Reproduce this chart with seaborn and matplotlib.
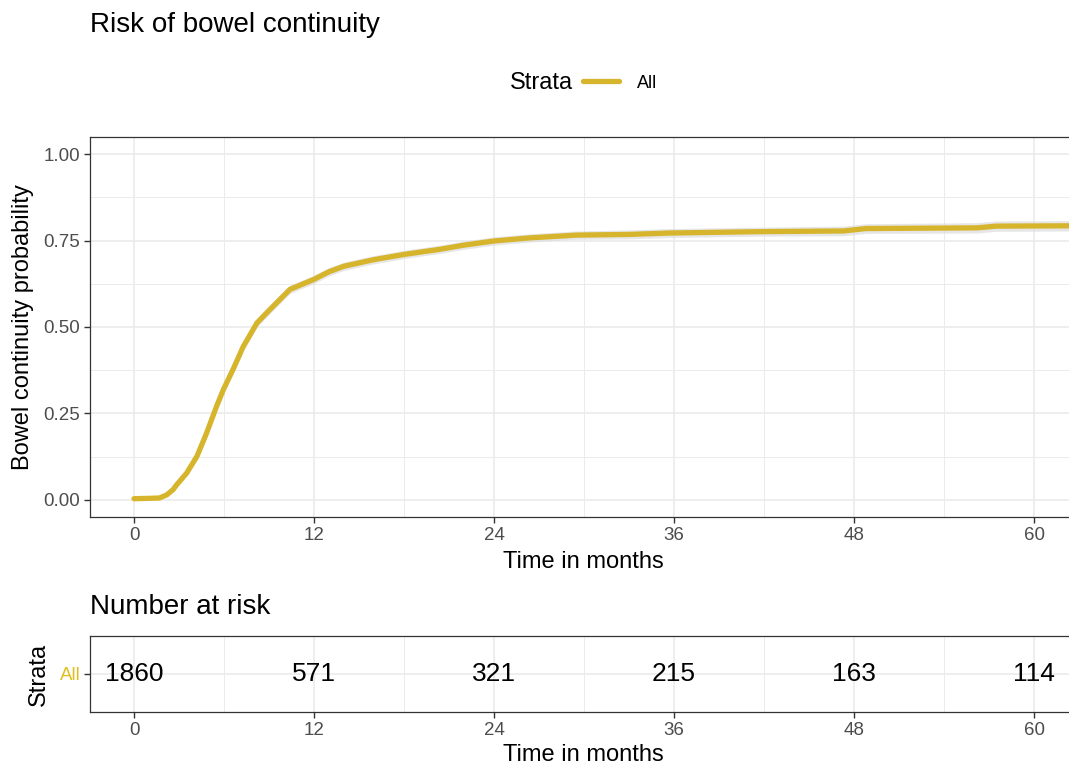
import numpy as np
import pandas as pd
import matplotlib
matplotlib.use("Agg")
import matplotlib.pyplot as plt
from matplotlib.ticker import MultipleLocator
import seaborn as sns

# cumulative probability curve
months = [0, 1.0, 1.7, 2.18, 2.6, 2.84, 3.51, 4.2, 4.84, 5.5, 5.96, 6.6, 7.29,
          8.2, 9.07, 10.4, 12.0, 13.0, 14.0, 16.0, 18.0, 20.4, 22.0, 24.0,
          26.4, 29.5, 33.0, 35.7, 41.7, 47.3, 48.8, 56.2, 57.5, 63.0]
prob = [0.003, 0.004, 0.005, 0.014, 0.029, 0.043, 0.077, 0.126, 0.193, 0.27,
        0.319, 0.377, 0.444, 0.512, 0.551, 0.609, 0.638, 0.66, 0.676, 0.695,
        0.71, 0.725, 0.737, 0.749, 0.758, 0.766, 0.768, 0.772, 0.776, 0.778,
        0.785, 0.787, 0.792, 0.793]
ci_half = [0.0, 0.002, 0.003, 0.005, 0.006, 0.007, 0.008, 0.009, 0.01, 0.011,
           0.011, 0.012, 0.012, 0.012, 0.012, 0.012, 0.012, 0.012, 0.012, 0.012,
           0.012, 0.012, 0.012, 0.012, 0.012, 0.012, 0.013, 0.013, 0.013, 0.014,
           0.014, 0.015, 0.015, 0.015]

risk_times = [0, 12, 24, 36, 48, 60]
risk_counts = [1860, 571, 321, 215, 163, 114]
strata = ["All"]

line_col = "#D6B52C"
label_col = "#E0BE1F"
grid_col = "#EBEBEB"
tick_col = "#4D4D4D"

sns.set_style("white")
plt.rcParams["font.family"] = ["Liberation Sans", "DejaVu Sans"]
plt.rcParams["text.color"] = "black"
plt.rcParams["axes.labelcolor"] = "black"

W, H = 1069, 767
fig = plt.figure(figsize=(W / 100, H / 100), dpi=100)


def px_axes(left, top, right, bottom):
    return fig.add_axes([left / W, 1 - bottom / H, (right - left) / W, (bottom - top) / H])


def style_axes(ax):
    for side in ["left", "bottom", "top", "right"]:
        ax.spines[side].set_color("#333333")
        ax.spines[side].set_linewidth(0.9)
    ax.tick_params(axis="both", which="major", bottom=True, left=True,
                   colors="#333333", labelcolor=tick_col,
                   labelsize=13.5, length=4, width=1.0, direction="out", pad=3)
    ax.set_axisbelow(True)


df = pd.DataFrame({"time": months, "prob": prob, "half": ci_half})
df["lo"] = df["prob"] - df["half"]
df["hi"] = df["prob"] + df["half"]

# main panel
x0 = (90 - 134) / 15
x1 = (1077 - 134) / 15
ax = px_axes(90, 137, 1077, 517)
style_axes(ax)
ax.fill_between(df["time"], df["lo"], df["hi"], color="#DCDCDC", alpha=0.7, linewidth=0)
sns.lineplot(data=df, x="time", y="prob", ax=ax, color=line_col, linewidth=3.8,
             label="All", legend=False, estimator=None)
ax.set_xlim(x0, x1)
ax.set_ylim(-0.05, 1.05)
ax.xaxis.set_major_locator(MultipleLocator(12))
ax.xaxis.set_minor_locator(MultipleLocator(6))
ax.yaxis.set_major_locator(MultipleLocator(0.25))
ax.yaxis.set_minor_locator(MultipleLocator(0.125))
ax.yaxis.set_major_formatter(plt.FuncFormatter(lambda v, p: f"{v:.2f}"))
ax.tick_params(which="minor", length=0)
ax.grid(which="major", color=grid_col, linewidth=1.2)
ax.grid(which="minor", color=grid_col, linewidth=0.7)
ax.set_xlabel("Time in months", fontsize=17, labelpad=5)
ax.set_ylabel("Bowel continuity probability", fontsize=17, labelpad=7)

fig.text(90 / W, 1 - 25 / H, "Risk of bowel continuity", fontsize=20, va="center", ha="left")

# legend at top
fig.text(510 / W, 1 - 83 / H, "Strata", fontsize=17, va="center", ha="left")
handles, _ = ax.get_legend_handles_labels()
fig.legend(handles, ["All"], loc="center left", bbox_to_anchor=(583 / W, 1 - 83 / H),
           frameon=False, fontsize=13, handlelength=2.0, handletextpad=1.0,
           borderpad=0, borderaxespad=0)

# number at risk table
fig.text(90 / W, 1 - 607 / H, "Number at risk", fontsize=20, va="center", ha="left")
ax2 = px_axes(90, 636, 1077, 712)
style_axes(ax2)
ax2.set_xlim(x0, x1)
ax2.set_ylim(-0.5, 0.5)
ax2.xaxis.set_major_locator(MultipleLocator(12))
ax2.xaxis.set_minor_locator(MultipleLocator(6))
ax2.tick_params(which="minor", length=0)
ax2.set_yticks([0])
ax2.set_yticklabels(strata)
ax2.get_yticklabels()[0].set_color(label_col)
ax2.grid(which="major", color=grid_col, linewidth=1.2)
ax2.grid(which="minor", axis="x", color=grid_col, linewidth=0.7)
for t, n in zip(risk_times, risk_counts):
    ax2.text(t, 0, str(n), fontsize=19, ha="center", va="center", color="black")
ax2.set_xlabel("Time in months", fontsize=17, labelpad=4)
ax2.set_ylabel("Strata", fontsize=17, labelpad=7)

fig.savefig("out.png", dpi=100)
